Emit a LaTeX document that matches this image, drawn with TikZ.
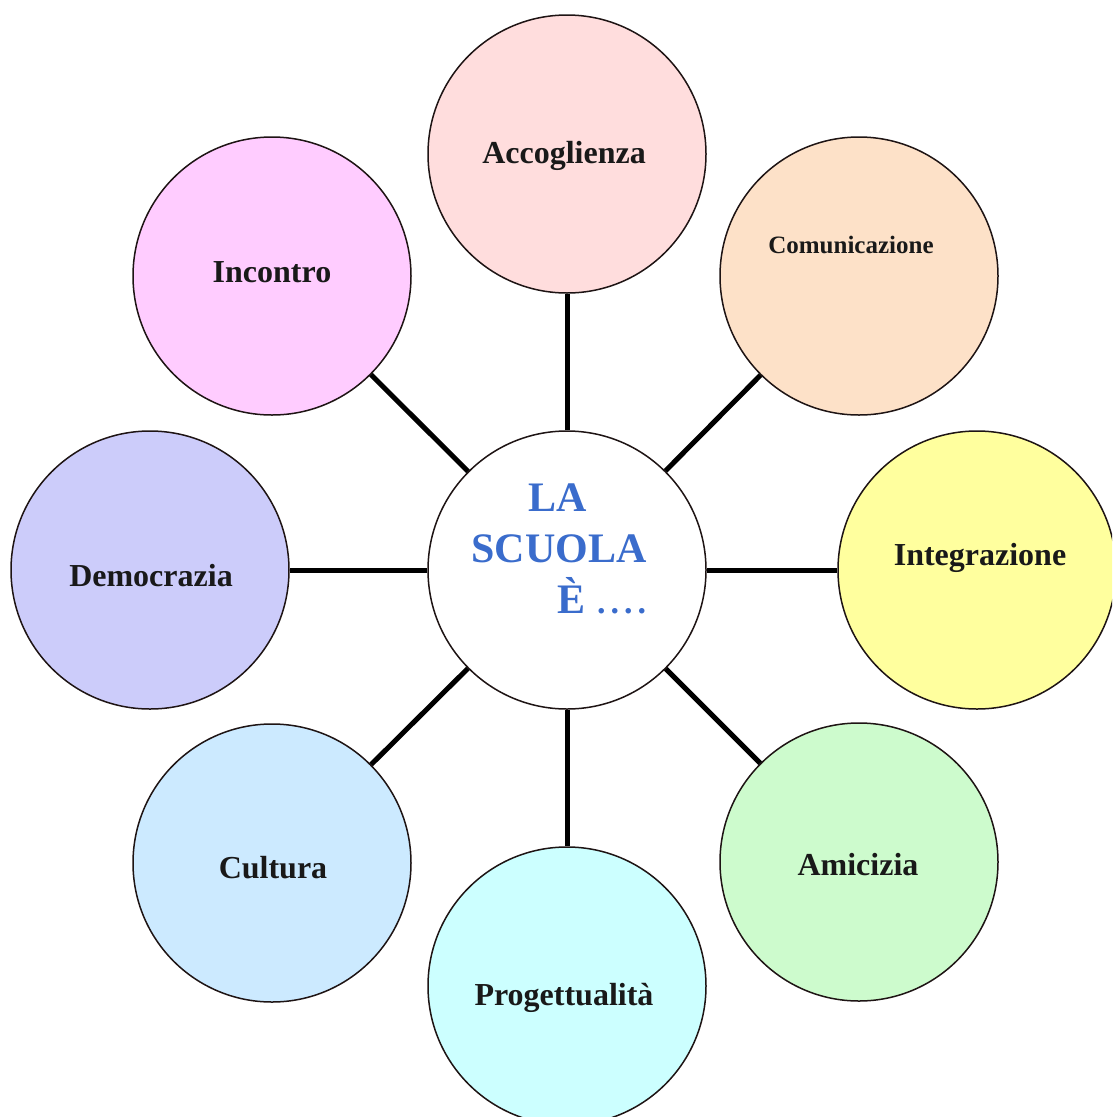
\documentclass[tikz,border=0pt]{standalone}
\usepackage{fontspec}
\setmainfont{Liberation Serif}
\definecolor{cAcc}{RGB}{255,221,221}
\definecolor{cCom}{RGB}{253,225,200}
\definecolor{cInt}{RGB}{255,255,158}
\definecolor{cAmi}{RGB}{205,251,205}
\definecolor{cPro}{RGB}{204,255,255}
\definecolor{cCul}{RGB}{204,234,255}
\definecolor{cDem}{RGB}{204,204,250}
\definecolor{cInc}{RGB}{255,204,255}
\definecolor{cBlue}{RGB}{58,108,204}
\definecolor{cEdge}{RGB}{30,20,20}
\tikzset{
  bubble/.style={circle, draw=cEdge, line width=1.5pt, minimum size=278pt, inner sep=0pt},
  conn/.style={line width=5pt, black},
  lbl/.style={anchor=base, inner sep=0pt, font=\bfseries\fontsize{32}{38}\selectfont, text=black!90},
  ctr/.style={inner sep=0pt, font=\bfseries\fontsize{42}{50}\selectfont, text=cBlue}
}
\begin{document}
\begin{tikzpicture}[x=1pt,y=-1pt]
\clip (0,0) rectangle (1112,1117);
\fill[white] (0,0) rectangle (1112,1117);
% bubbles
\node[bubble, fill=white] (ctr) at (567,570) {};
\node[bubble, fill=cAcc] (acc) at (567,154) {};
\node[bubble, fill=cCom] (com) at (859,276) {};
\node[bubble, fill=cInt] (int) at (977,570) {};
\node[bubble, fill=cAmi] (ami) at (859,862) {};
\node[bubble, fill=cPro] (pro) at (567,986) {};
\node[bubble, fill=cCul] (cul) at (272,863) {};
\node[bubble, fill=cDem] (dem) at (150,570) {};
\node[bubble, fill=cInc] (inc) at (272,276) {};
% connectors
\foreach \n in {acc,com,int,ami,pro,cul,dem,inc}
  \draw[conn] (ctr) -- (\n);
% labels
\node[lbl] (tacc) at (564,163) {Accoglienza};
\node[lbl, font=\bfseries\fontsize{25}{30}\selectfont] (tcom) at (851,253) {Comunicazione};
\node[lbl] (tint) at (980,565) {Integrazione};
\node[lbl] (tami) at (858,875) {Amicizia};
\node[lbl] (tpro) at (564,1005) {Progettualità};
\node[lbl] (tcul) at (273,878) {Cultura};
\node[lbl] (tdem) at (151,586) {Democrazia};
\node[lbl] (tinc) at (272,282) {Incontro};
% centre text
\node[ctr, anchor=base] (tla) at (558,511) {LA};
\node[ctr, anchor=base] (tsc) at (559,562) {SCUOLA};
\node[ctr, anchor=base west] (te) at (557,613) {È\kern12pt{\fontsize{34}{40}\selectfont .\kern5pt.\kern5pt.\kern5pt.}};
\end{tikzpicture}
\end{document}
